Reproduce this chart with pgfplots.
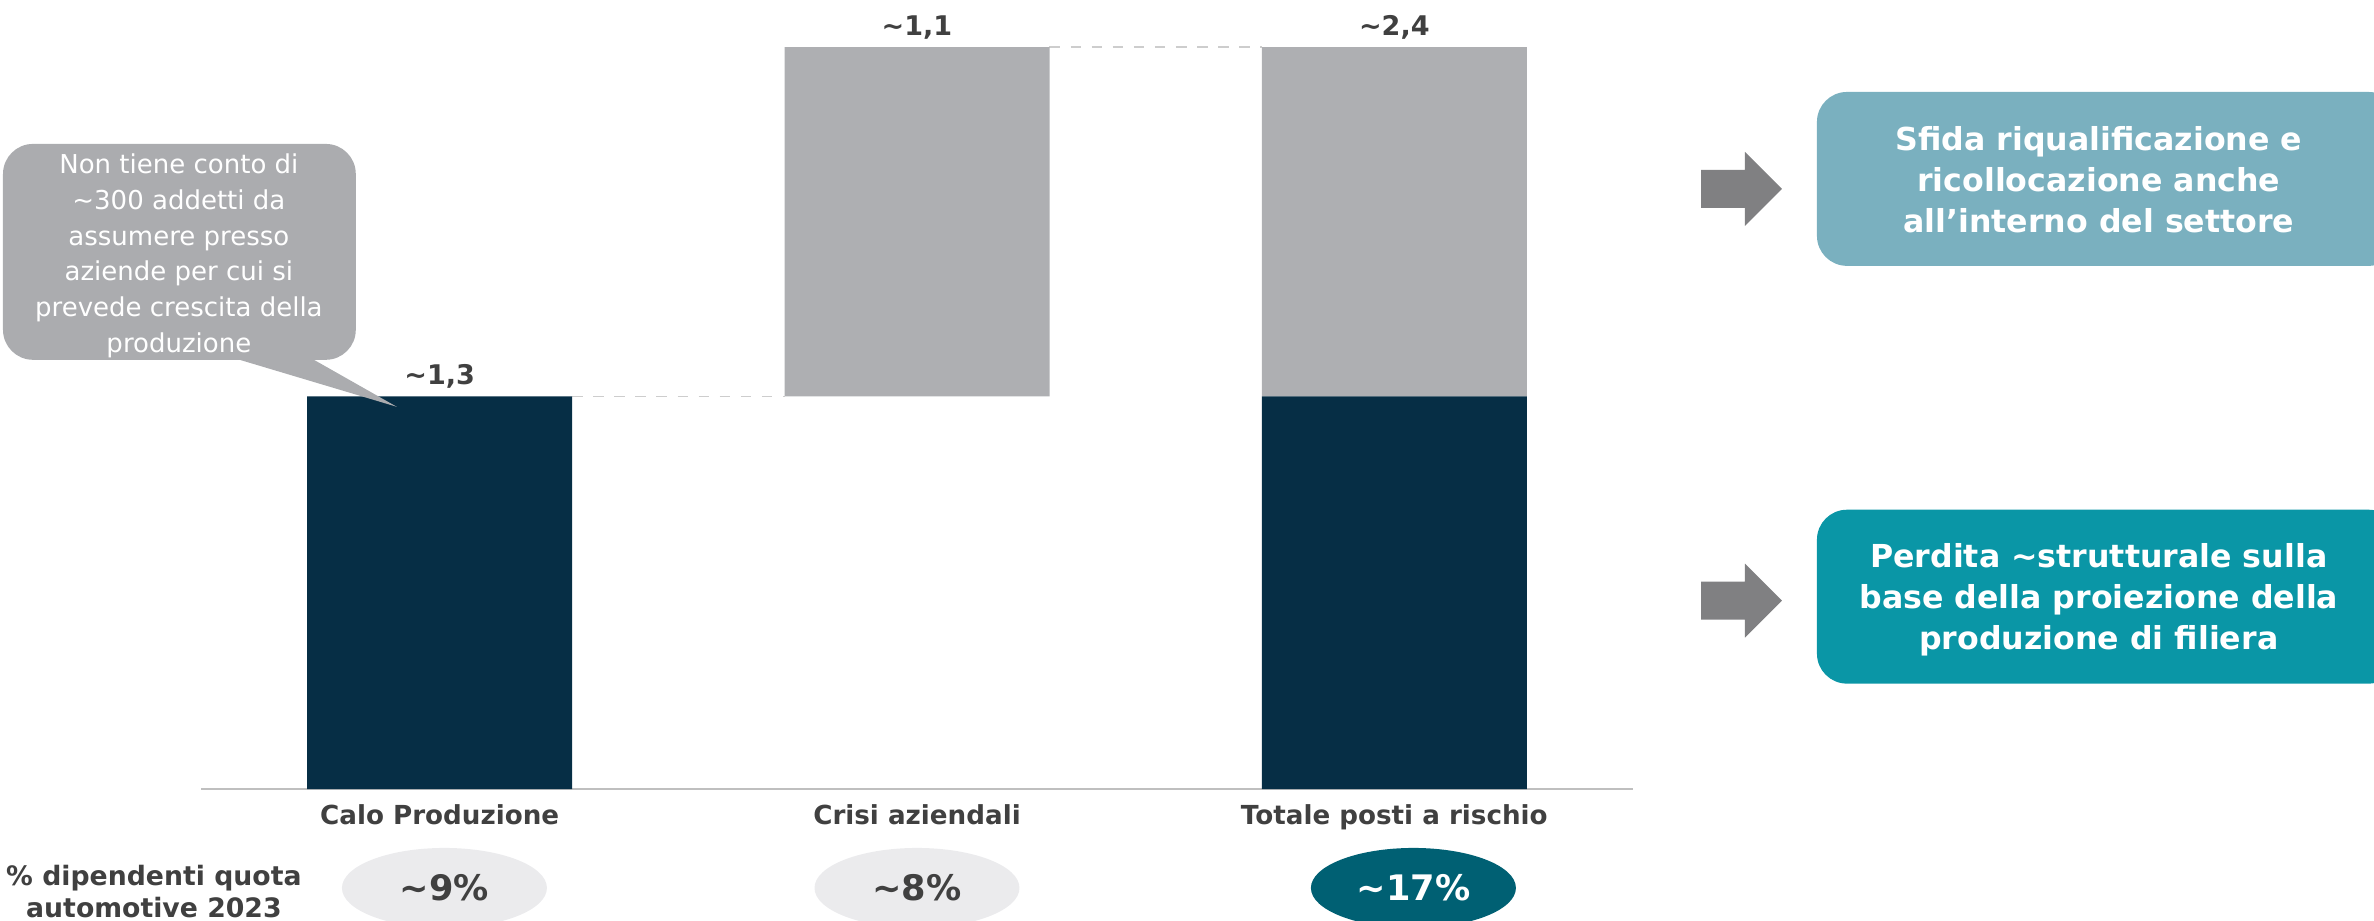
\documentclass[border=0pt]{standalone}
\usepackage{fontspec}
\setmainfont{DejaVu Sans}
\usepackage{pgfplots}
\pgfplotsset{compat=1.18}
\usetikzlibrary{shapes.geometric}
\definecolor{navy}{RGB}{6,46,69}
\definecolor{bargrey}{RGB}{174,175,178}
\definecolor{callgrey}{RGB}{171,172,175}
\definecolor{ellgrey}{RGB}{235,235,237}
\definecolor{elldark}{RGB}{0,96,115}
\definecolor{boxone}{RGB}{122,176,191}
\definecolor{boxtwo}{RGB}{10,150,166}
\definecolor{arrowgrey}{RGB}{128,128,130}
\definecolor{txtdark}{RGB}{64,64,64}
\definecolor{axisgrey}{RGB}{191,191,191}
\definecolor{dashgrey}{RGB}{205,205,205}
\begin{document}
\begin{tikzpicture}
\useasboundingbox (0,0) rectangle (23.74cm,-9.2cm);
\begin{axis}[at={(2.01cm,-7.89cm)}, anchor=south west,
  scale only axis, width=14.32cm, height=7.42cm,
  xmin=-0.5, xmax=2.5, ymin=0, ymax=2.4,
  ybar stacked, bar width=2.65cm,
  axis y line=none, axis x line=bottom,
  x axis line style={-, draw=axisgrey, line width=0.6pt},
  xtick={0,1,2},
  xticklabels={Calo Produzione, Crisi aziendali, Totale posti a rischio},
  major tick length=0pt,
  xticklabel style={font=\bfseries\fontsize{7.45}{9}\selectfont, text=txtdark, yshift=-0.8pt},
  clip=false]
\addplot[fill=navy, draw=none] coordinates {(0,1.27) (1,0) (2,1.27)};
\addplot[fill=none, draw=none] coordinates {(0,0) (1,1.27) (2,0)};
\addplot[fill=bargrey, draw=none] coordinates {(0,0) (1,1.13) (2,1.13)};
\draw[dashgrey, dashed, line width=0.4pt] (axis cs:0.2775,1.27) -- (axis cs:0.7225,1.27);
\draw[dashgrey, dashed, line width=0.4pt] (axis cs:1.2775,2.4) -- (axis cs:1.7225,2.4);
\node[above, yshift=-1.3pt, font=\bfseries\fontsize{7.7}{9}\selectfont, text=txtdark] at (axis cs:0,1.27) {\textasciitilde1,3};
\node[above, yshift=-1.3pt, font=\bfseries\fontsize{7.7}{9}\selectfont, text=txtdark] at (axis cs:1,2.4) {\textasciitilde1,1};
\node[above, yshift=-1.3pt, font=\bfseries\fontsize{7.7}{9}\selectfont, text=txtdark] at (axis cs:2,2.4) {\textasciitilde2,4};
\node[ellipse, fill=ellgrey, minimum width=2.05cm, minimum height=0.8cm, inner sep=0pt, text=txtdark, font=\bfseries\fontsize{10}{12}\selectfont] at (axis cs:0.01,-0.32) {\textasciitilde9\%};
\node[ellipse, fill=ellgrey, minimum width=2.05cm, minimum height=0.8cm, inner sep=0pt, text=txtdark, font=\bfseries\fontsize{10}{12}\selectfont] at (axis cs:1.0,-0.32) {\textasciitilde8\%};
\node[ellipse, fill=elldark, minimum width=2.05cm, minimum height=0.8cm, inner sep=0pt, text=white, font=\bfseries\fontsize{10}{12}\selectfont] at (axis cs:2.04,-0.32) {\textasciitilde17\%};
\end{axis}
\begin{scope}[x=0.01cm,y=-0.01cm]
% callout
\fill[callgrey, rounded corners=3mm] (3,144) rectangle (356,360);
\fill[callgrey] (213,352) -- (300,352) -- (397,407) -- cycle;
\node[text=white, align=center, font=\fontsize{7.4}{10.2}\selectfont] at (179,256)
 {Non tiene conto di\\\textasciitilde300 addetti da\\assumere presso\\aziende per cui si\\prevede crescita della\\produzione};
% left label
\node[align=center, text=txtdark, font=\bfseries\fontsize{7.6}{9.1}\selectfont] at (154,892) {\% dipendenti quota\\automotive 2023};
% arrows
\fill[arrowgrey] (1702,170) -- (1746,170) -- (1746,152) -- (1783,189) -- (1746,226) -- (1746,208) -- (1702,208) -- cycle;
\fill[arrowgrey] (1702,582) -- (1746,582) -- (1746,564) -- (1783,601) -- (1746,638) -- (1746,620) -- (1702,620) -- cycle;
% boxes
\fill[boxone, rounded corners=3mm] (1818,92) rectangle (2400,266);
\node[text=white, align=center, font=\bfseries\fontsize{9}{11.6}\selectfont] at (2100,180)
 {Sfida riqualificazione e\\ricollocazione anche\\all’interno del settore};
\fill[boxtwo, rounded corners=3mm] (1818,510) rectangle (2400,684);
\node[text=white, align=center, font=\bfseries\fontsize{9}{11.6}\selectfont] at (2100,600)
 {Perdita \textasciitilde strutturale sulla\\base della proiezione della\\produzione di filiera};
\end{scope}
\end{tikzpicture}
\end{document}
